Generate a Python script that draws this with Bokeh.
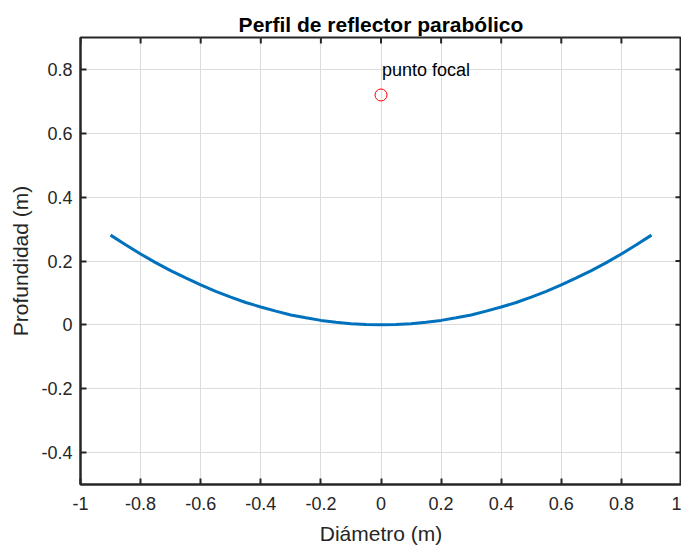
from bokeh.plotting import figure
from bokeh.models import Range1d, FixedTicker
from bokeh.embed import file_html
from bokeh.resources import INLINE
from bokeh.core.properties import value
import math

# Data
diam_x = [-0.9, -0.85, -0.8, -0.75, -0.7, -0.65, -0.6, -0.55, -0.5, -0.45, -0.4, -0.35,
          -0.3, -0.25, -0.2, -0.15, -0.1, -0.05, 0.0, 0.05, 0.1, 0.15, 0.2, 0.25, 0.3,
          0.35, 0.4, 0.45, 0.5, 0.55, 0.6, 0.65, 0.7, 0.75, 0.8, 0.85, 0.9]
depth_y = [0.281, 0.251, 0.222, 0.195, 0.170, 0.147, 0.125, 0.105, 0.087, 0.070, 0.056, 0.043,
           0.031, 0.022, 0.014, 0.008, 0.0035, 0.0009, 0.0, 0.0009, 0.0035, 0.008, 0.014, 0.022, 0.031,
           0.043, 0.056, 0.070, 0.087, 0.105, 0.125, 0.147, 0.170, 0.195, 0.222, 0.251, 0.281]
focal_x = [0.0]
focal_y = [0.72]
focal_label = "punto focal"
focal_label_y = 0.797

x_min, x_max = -1, 1
y_min, y_max = -0.5, 0.9
x_ticks = [-1, -0.8, -0.6, -0.4, -0.2, 0, 0.2, 0.4, 0.6, 0.8, 1]
x_tick_labels = ["-1", "-0.8", "-0.6", "-0.4", "-0.2", "0", "0.2", "0.4", "0.6", "0.8", "1"]
y_ticks = [-0.4, -0.2, 0, 0.2, 0.4, 0.6, 0.8]
y_tick_labels = ["-0.4", "-0.2", "0", "0.2", "0.4", "0.6", "0.8"]

FONT = "Liberation Sans"

p = figure(width=681, height=547, output_backend="svg", toolbar_location=None,
           x_range=Range1d(x_min, x_max), y_range=Range1d(y_min, y_max),
           title="Perfil de reflector parabólico",
           x_axis_label="Diámetro (m)", y_axis_label="Profundidad (m)",
           min_border_left=80, min_border_right=0, min_border_top=37, min_border_bottom=61)

p.title.text_font = FONT
p.title.text_font_size = "21px"
p.title.text_font_style = "bold"
p.title.align = "center"
p.title.text_color = "#000000"
p.title.offset = -2
p.title.standoff = 4

p.background_fill_color = "white"
p.border_fill_color = "white"
p.outline_line_color = "#262626"
p.outline_line_width = 2

for ax in [p.xaxis[0], p.yaxis[0]]:
    ax.axis_label_text_font = FONT
    ax.axis_label_text_font_size = "21px"
    ax.axis_label_text_font_style = "normal"
    ax.axis_label_text_color = "#262626"
    ax.major_label_text_font = FONT
    ax.major_label_text_font_size = "18px"
    ax.major_label_text_color = "#262626"
    ax.axis_line_color = "#262626"
    ax.axis_line_width = 2
    ax.major_tick_in = 6
    ax.major_tick_out = 0
    ax.major_tick_line_color = "#262626"
    ax.major_tick_line_width = 2
    ax.minor_tick_line_color = None

p.xaxis.ticker = FixedTicker(ticks=x_ticks)
p.xaxis.major_label_overrides = dict(zip(x_ticks, x_tick_labels))
p.yaxis.ticker = FixedTicker(ticks=y_ticks)
p.yaxis.major_label_overrides = dict(zip(y_ticks, y_tick_labels))
p.xaxis.major_label_standoff = 12
p.yaxis.major_label_standoff = 8
p.xaxis.axis_label_standoff = 9
p.yaxis.axis_label_standoff = 6

p.xgrid.ticker = FixedTicker(ticks=x_ticks)
p.ygrid.ticker = FixedTicker(ticks=y_ticks)
p.grid.grid_line_color = "#dcdcdc"
p.grid.grid_line_width = 1

# inward ticks on the top and right edges of the box (half of each dash is clipped by the frame)
p.scatter(x_ticks, [y_max] * len(x_ticks), marker="dash", size=12, angle=math.pi / 2,
          line_color="#262626", line_width=2)
p.scatter([x_max] * len(y_ticks), y_ticks, marker="dash", size=12, angle=0,
          line_color="#262626", line_width=2)

p.line(diam_x, depth_y, line_color="#0072BD", line_width=3)
p.scatter(focal_x, focal_y, marker="circle", size=12, fill_color=None,
          line_color="#ff0000", line_width=1)
p.text(x=focal_x, y=[focal_label_y], text=[focal_label], text_font=value(FONT),
       text_font_size="18px", text_baseline="middle", text_align="left",
       x_offset=1, text_color="#000000")

open("out.html", "w").write(file_html(p, INLINE))
